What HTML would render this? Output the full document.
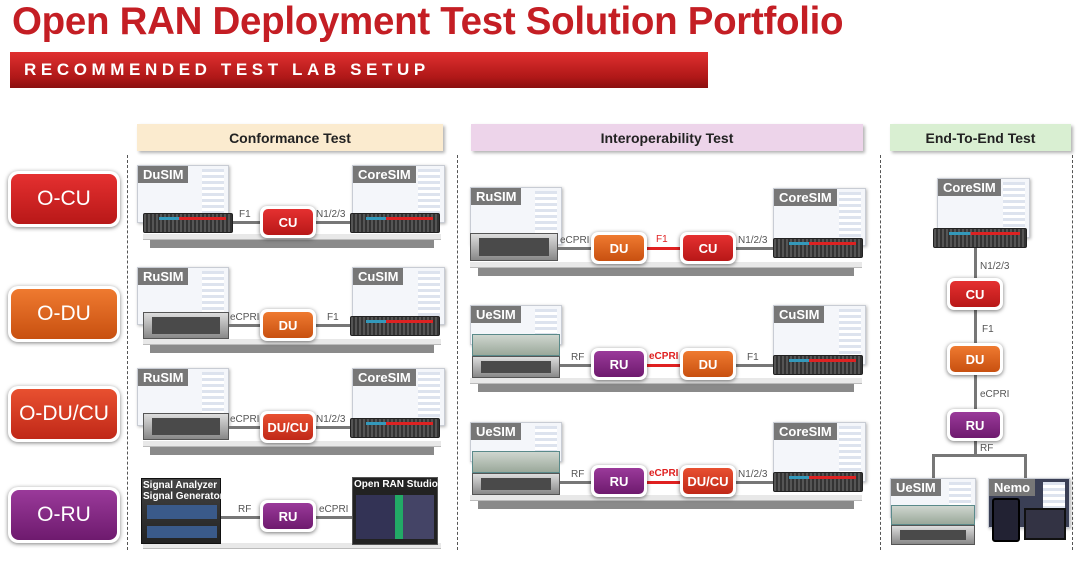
<!DOCTYPE html>
<html><head><meta charset="utf-8"><style>
*{margin:0;padding:0;box-sizing:border-box}
body{width:1078px;height:561px;background:#fff;position:relative;overflow:hidden;font-family:"Liberation Sans",sans-serif}
.a{position:absolute}
.title{left:12px;top:0px;font-size:38.5px;font-weight:bold;color:#c41e24;letter-spacing:-0.3px;white-space:nowrap}
.banner{left:10px;top:52px;width:698px;height:36px;background:linear-gradient(#e03030,#b01818 70%,#8a1010);}
.banner span{position:absolute;left:14px;top:8px;color:#fff;font-weight:bold;font-size:17px;letter-spacing:4.6px}
.btn{width:112px;height:56px;border-radius:10px;background:#fff;box-shadow:0 1px 4px rgba(0,0,0,.5);padding:3px}
.btn div{width:100%;height:100%;border-radius:8px;color:#fff;font-size:21px;display:flex;align-items:center;justify-content:center}
.hdr{height:27px;font-weight:bold;font-size:14px;color:#222;display:flex;align-items:center;justify-content:center;box-shadow:2px 2px 3px rgba(0,0,0,.3)}
.dash{width:0;border-left:1.5px dashed #555;top:155px;height:395px}
.scr{background:#f4f6fa;border:1px solid #c8ccd4;box-shadow:1px 1px 3px rgba(0,0,0,.3);overflow:hidden}
.scr:after{content:"";position:absolute;right:4px;top:3px;width:22px;height:80%;background:repeating-linear-gradient(#dde3ee 0 3px,#fff 3px 6px)}
.lb{background:#777;color:#fff;font-weight:bold;font-size:13px;padding:1px 5px;position:absolute;left:0;top:0}
.rack{background:repeating-linear-gradient(90deg,#555 0 2px,#333 2px 4px);border:1px solid #222;border-radius:2px}
.rack:before{content:"";position:absolute;left:15px;right:6px;top:3px;height:3px;background:linear-gradient(90deg,#39b 0 30%,#d22 30%)}
.srv{background:linear-gradient(#ddd,#888);border:1px solid #555}
.srv:before{content:"";position:absolute;left:8px;right:8px;top:4px;bottom:4px;background:#4a4a4a}
.shelf{height:6px;background:#e8e8e8;border-bottom:1px solid #bbb}
.legs{height:8px;background:#8a8a8a}
.ln{height:3px;background:#777}
.lr{height:3px;background:#e02020}
.vl{width:3px;background:#777}
.node{width:56px;height:32px;background:#fff;border-radius:7px;box-shadow:0 1px 4px rgba(0,0,0,.55);padding:3px}
.node div{width:100%;height:100%;border-radius:5px;color:#fff;font-weight:bold;font-size:13px;display:flex;align-items:center;justify-content:center}
.red{background:linear-gradient(#e53030,#b81818)}
.org{background:linear-gradient(#ef7a30,#c85010)}
.ro{background:linear-gradient(#e85030,#c02818)}
.pur{background:linear-gradient(#9a3a9a,#6e1a6e)}
.t{font-size:10px;color:#555}
.tr{font-size:10px;color:#e02020;font-weight:bold}
.ue{background:linear-gradient(#cfd6cf,#9aa89a);border:1px solid #5a8a8a}
</style></head><body>
<div class="a title">Open RAN Deployment Test Solution Portfolio</div>
<div class="a banner"><span>RECOMMENDED TEST LAB SETUP</span></div>

<div class="a btn" style="left:8px;top:171px"><div class="red">O-CU</div></div>
<div class="a btn" style="left:8px;top:286px"><div class="org">O-DU</div></div>
<div class="a btn" style="left:8px;top:386px"><div class="ro">O-DU/CU</div></div>
<div class="a btn" style="left:8px;top:487px"><div class="pur">O-RU</div></div>

<div class="a hdr" style="left:137px;top:124px;width:306px;background:#fbebcf">Conformance Test</div>
<div class="a hdr" style="left:471px;top:124px;width:392px;background:#edd4ea">Interoperability Test</div>
<div class="a hdr" style="left:890px;top:124px;width:181px;background:#d9efd2">End-To-End Test</div>

<div class="a dash" style="left:127px"></div>
<div class="a dash" style="left:457px"></div>
<div class="a dash" style="left:880px"></div>
<div class="a dash" style="left:1072px"></div>

<!-- Conformance row 1 -->
<div class="a shelf" style="left:143px;top:234px;width:298px"></div>
<div class="a legs" style="left:150px;top:240px;width:284px"></div>
<div class="a scr" style="left:137px;top:165px;width:92px;height:58px"><span class="lb">DuSIM</span></div>
<div class="a rack" style="left:143px;top:213px;width:90px;height:20px"></div>
<div class="a scr" style="left:352px;top:165px;width:93px;height:58px"><span class="lb">CoreSIM</span></div>
<div class="a rack" style="left:350px;top:213px;width:90px;height:20px"></div>
<div class="a ln" style="left:233px;top:221px;width:117px"></div>
<div class="a t" style="left:239px;top:209px">F1</div>
<div class="a t" style="left:316px;top:209px">N1/2/3</div>
<div class="a node" style="left:260px;top:206px"><div class="red">CU</div></div>

<!-- row 2 -->
<div class="a shelf" style="left:143px;top:339px;width:298px"></div>
<div class="a legs" style="left:150px;top:345px;width:284px"></div>
<div class="a scr" style="left:137px;top:267px;width:92px;height:58px"><span class="lb">RuSIM</span></div>
<div class="a srv" style="left:143px;top:312px;width:86px;height:27px"></div>
<div class="a scr" style="left:352px;top:267px;width:93px;height:58px"><span class="lb">CuSIM</span></div>
<div class="a rack" style="left:350px;top:316px;width:90px;height:20px"></div>
<div class="a ln" style="left:229px;top:324px;width:121px"></div>
<div class="a t" style="left:230px;top:312px">eCPRI</div>
<div class="a t" style="left:327px;top:312px">F1</div>
<div class="a node" style="left:260px;top:309px"><div class="org">DU</div></div>

<!-- row 3 -->
<div class="a shelf" style="left:143px;top:441px;width:298px"></div>
<div class="a legs" style="left:150px;top:447px;width:284px"></div>
<div class="a scr" style="left:137px;top:368px;width:92px;height:58px"><span class="lb">RuSIM</span></div>
<div class="a srv" style="left:143px;top:413px;width:86px;height:27px"></div>
<div class="a scr" style="left:352px;top:368px;width:93px;height:58px"><span class="lb">CoreSIM</span></div>
<div class="a rack" style="left:350px;top:418px;width:90px;height:20px"></div>
<div class="a ln" style="left:229px;top:426px;width:121px"></div>
<div class="a t" style="left:230px;top:414px">eCPRI</div>
<div class="a t" style="left:316px;top:414px">N1/2/3</div>
<div class="a node" style="left:260px;top:411px"><div class="ro">DU/CU</div></div>

<!-- row 4 -->
<div class="a shelf" style="left:143px;top:543px;width:298px"></div>
<div class="a" style="left:141px;top:478px;width:80px;height:66px;background:linear-gradient(#444,#222);border:1px solid #111"></div>
<div class="a" style="left:143px;top:480px;color:#fff;font-size:10px;font-weight:bold;line-height:11px">Signal Analyzer<br>Signal Generator</div>
<div class="a" style="left:147px;top:505px;width:70px;height:14px;background:#3a5a8a"></div>
<div class="a" style="left:147px;top:526px;width:70px;height:12px;background:#3a5a8a"></div>
<div class="a" style="left:352px;top:477px;width:86px;height:68px;background:#222;border:1px solid #555"></div>
<div class="a" style="left:354px;top:479px;color:#fff;font-size:10px;font-weight:bold">Open RAN Studio</div>
<div class="a" style="left:356px;top:495px;width:78px;height:44px;background:linear-gradient(90deg,#335 0 50%,#2a6 50% 60%,#446 60%)"></div>
<div class="a ln" style="left:221px;top:516px;width:131px"></div>
<div class="a t" style="left:238px;top:504px">RF</div>
<div class="a t" style="left:319px;top:504px">eCPRI</div>
<div class="a node" style="left:260px;top:500px"><div class="pur">RU</div></div>

<!-- Interop row 1 -->
<div class="a shelf" style="left:470px;top:262px;width:392px"></div>
<div class="a legs" style="left:478px;top:268px;width:376px"></div>
<div class="a scr" style="left:470px;top:187px;width:92px;height:58px"><span class="lb">RuSIM</span></div>
<div class="a srv" style="left:470px;top:233px;width:88px;height:28px"></div>
<div class="a scr" style="left:773px;top:188px;width:93px;height:58px"><span class="lb">CoreSIM</span></div>
<div class="a rack" style="left:773px;top:238px;width:90px;height:20px"></div>
<div class="a ln" style="left:558px;top:247px;width:37px"></div>
<div class="a lr" style="left:645px;top:247px;width:37px"></div>
<div class="a ln" style="left:736px;top:247px;width:37px"></div>
<div class="a t" style="left:560px;top:235px">eCPRI</div>
<div class="a tr" style="left:656px;top:234px;font-weight:normal">F1</div>
<div class="a t" style="left:738px;top:235px">N1/2/3</div>
<div class="a node" style="left:591px;top:232px"><div class="org">DU</div></div>
<div class="a node" style="left:680px;top:232px"><div class="red">CU</div></div>

<!-- row 2 -->
<div class="a shelf" style="left:470px;top:378px;width:392px"></div>
<div class="a legs" style="left:478px;top:384px;width:376px"></div>
<div class="a scr" style="left:470px;top:305px;width:92px;height:40px"><span class="lb">UeSIM</span></div>
<div class="a ue" style="left:472px;top:334px;width:88px;height:22px"></div>
<div class="a srv" style="left:472px;top:356px;width:88px;height:22px"></div>
<div class="a scr" style="left:773px;top:305px;width:93px;height:60px"><span class="lb">CuSIM</span></div>
<div class="a rack" style="left:773px;top:355px;width:90px;height:20px"></div>
<div class="a ln" style="left:560px;top:364px;width:35px"></div>
<div class="a lr" style="left:645px;top:364px;width:37px"></div>
<div class="a ln" style="left:736px;top:364px;width:37px"></div>
<div class="a t" style="left:571px;top:352px">RF</div>
<div class="a tr" style="left:649px;top:351px">eCPRI</div>
<div class="a t" style="left:747px;top:352px">F1</div>
<div class="a node" style="left:591px;top:348px"><div class="pur">RU</div></div>
<div class="a node" style="left:680px;top:348px"><div class="org">DU</div></div>

<!-- row 3 -->
<div class="a shelf" style="left:470px;top:495px;width:392px"></div>
<div class="a legs" style="left:478px;top:501px;width:376px"></div>
<div class="a scr" style="left:470px;top:422px;width:92px;height:40px"><span class="lb">UeSIM</span></div>
<div class="a ue" style="left:472px;top:451px;width:88px;height:22px"></div>
<div class="a srv" style="left:472px;top:473px;width:88px;height:22px"></div>
<div class="a scr" style="left:773px;top:422px;width:93px;height:60px"><span class="lb">CoreSIM</span></div>
<div class="a rack" style="left:773px;top:472px;width:90px;height:20px"></div>
<div class="a ln" style="left:560px;top:481px;width:35px"></div>
<div class="a lr" style="left:645px;top:481px;width:37px"></div>
<div class="a ln" style="left:736px;top:481px;width:37px"></div>
<div class="a t" style="left:571px;top:469px">RF</div>
<div class="a tr" style="left:649px;top:468px">eCPRI</div>
<div class="a t" style="left:738px;top:469px">N1/2/3</div>
<div class="a node" style="left:591px;top:465px"><div class="pur">RU</div></div>
<div class="a node" style="left:680px;top:465px"><div class="ro">DU/CU</div></div>

<!-- E2E -->
<div class="a vl" style="left:974px;top:245px;height:210px"></div>
<div class="a ln" style="left:933px;top:454px;width:94px"></div>
<div class="a vl" style="left:932px;top:454px;height:26px"></div>
<div class="a vl" style="left:1024px;top:454px;height:26px"></div>
<div class="a scr" style="left:937px;top:178px;width:93px;height:60px"><span class="lb">CoreSIM</span></div>
<div class="a rack" style="left:933px;top:228px;width:94px;height:20px"></div>
<div class="a t" style="left:980px;top:261px">N1/2/3</div>
<div class="a node" style="left:947px;top:278px"><div class="red">CU</div></div>
<div class="a t" style="left:982px;top:324px">F1</div>
<div class="a node" style="left:947px;top:343px"><div class="org">DU</div></div>
<div class="a t" style="left:980px;top:389px">eCPRI</div>
<div class="a node" style="left:947px;top:409px"><div class="pur">RU</div></div>
<div class="a t" style="left:980px;top:443px">RF</div>
<div class="a scr" style="left:890px;top:478px;width:86px;height:40px"><span class="lb">UeSIM</span></div>
<div class="a ue" style="left:891px;top:505px;width:84px;height:20px"></div>
<div class="a srv" style="left:891px;top:525px;width:84px;height:20px"></div>
<div class="a scr" style="left:988px;top:478px;width:82px;height:50px;background:#3a3f55"><span class="lb">Nemo</span></div>
<div class="a" style="left:992px;top:498px;width:28px;height:44px;background:#223;border:2px solid #000;border-radius:3px"></div>
<div class="a" style="left:1024px;top:508px;width:42px;height:32px;background:#334;border:2px solid #111"></div>
</body></html>
